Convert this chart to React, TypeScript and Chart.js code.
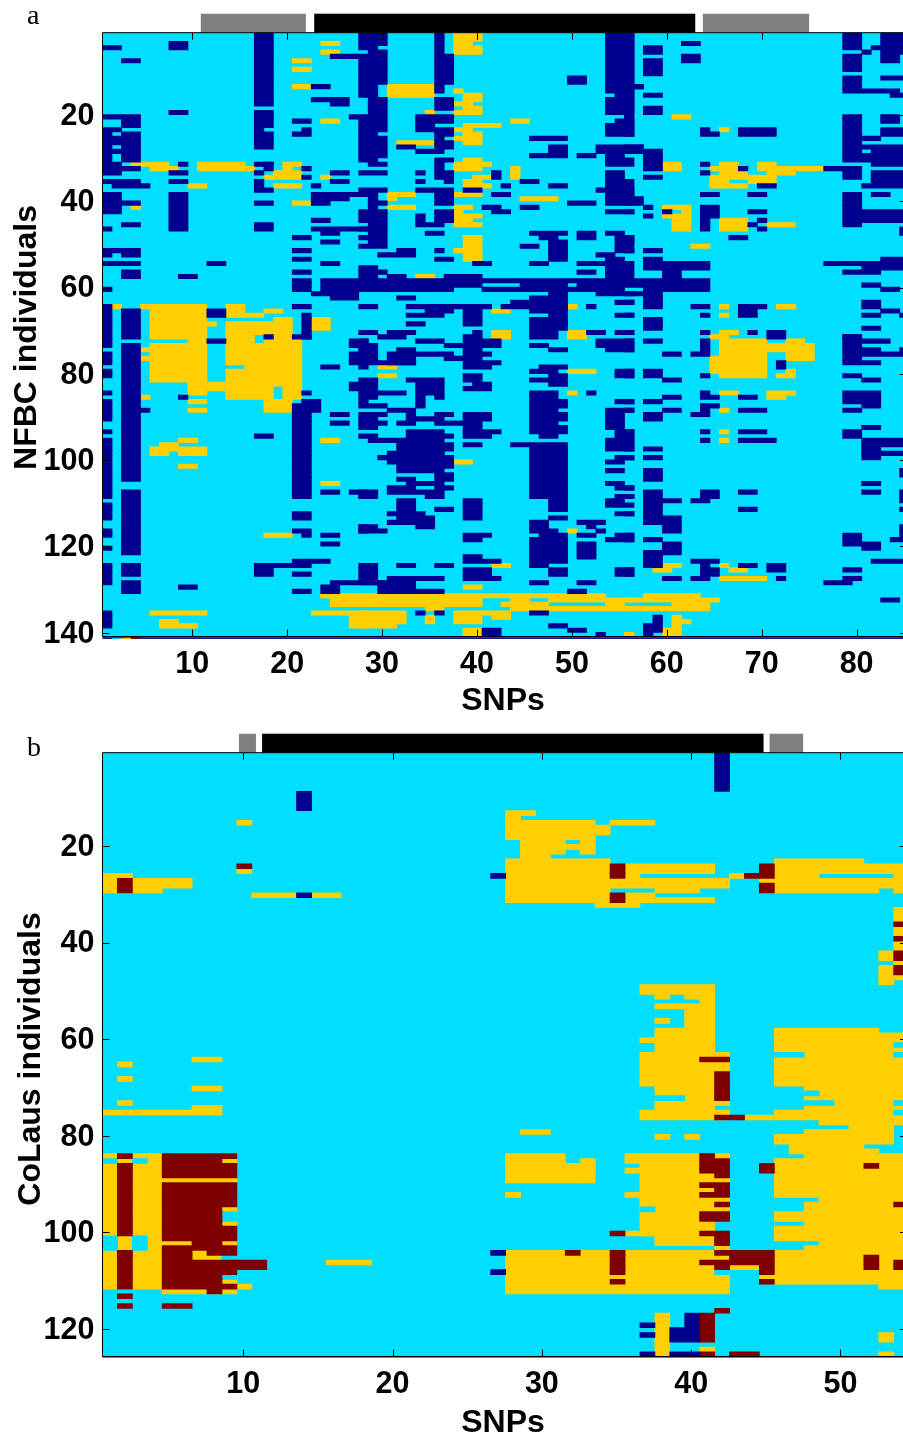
import React, { useEffect, useRef } from "react";
import { Chart, registerables } from "chart.js";

Chart.register(...registerables);

type Block = [number, number, number, number];

// Cell blocks: [first column edge, last column edge, first row edge, last row edge], zero based.
const A_NAVY: Block[] = [
[0,2,3,4],[7,9,2,4],[2,4,6,7],[16,18,0,17],[16,18,18,22],[16,17,22,23],[16,18,23,27],[7,9,18,19],[20,22,20,21],[21,22,22,23],[20,22,23,24],
[22,24,12,13],[22,26,15,16],[24,26,16,17],[24,27,5,6],
[27,30,0,3],[27,29,3,4],[28,30,4,5],[27,30,5,12],[27,29,12,15],[28,30,15,19],[26,30,19,20],[27,30,20,23],[27,29,23,24],[27,30,24,29],[27,29,29,30],[28,30,30,31],[27,30,32,33],[27,30,36,37],[27,29,37,38],[28,29,38,39],[28,30,39,40],[28,29,40,41],[27,30,41,44],[28,30,44,45],[27,30,45,46],[28,30,46,47],[27,30,47,48],[28,30,48,49],[27,30,49,50],
[2,4,19,22],[0,2,19,20],[0,2,22,23],[0,1,23,24],[0,2,24,26],[0,1,26,27],[0,2,27,28],[0,1,28,30],[2,4,23,30],[0,2,30,31],[0,4,31,32],[0,2,32,33],[0,4,34,35],[1,5,35,36],
[0,2,37,42],[2,4,39,40],[2,4,44,45],[0,1,45,46],[7,9,37,46],[16,18,39,40],[16,18,44,46],[20,22,47,48],[20,22,50,51],[20,22,52,53],[20,22,55,56],[20,22,57,60],
[22,29,37,38],[22,26,38,39],[22,24,39,40],[22,23,35,36],[21,22,31,32],[21,22,33,34],[24,26,32,33],[24,26,34,35],[7,9,32,33],[8,9,30,31],[7,9,34,35],[16,18,30,31],[16,17,32,33],[16,17,34,37],[17,18,36,37],[17,18,30,32],
[22,24,43,44],[22,28,45,46],[23,25,46,47],[23,25,48,49],[23,25,53,54],[11,13,53,54],[0,4,50,51],[2,4,51,52],[0,1,51,52],[0,4,53,54],[2,4,55,57],[8,10,56,57],[0,1,59,60],[23,27,57,60],[22,27,60,61],[24,27,61,62],
[27,29,54,55],[27,30,55,56],[27,29,56,57],[30,32,56,57],[36,40,56,57],[27,64,57,58],[27,40,58,59],[44,49,58,59],[50,64,58,59],[27,37,59,60],[40,55,59,60],[57,64,59,60],
[53,56,0,12],[53,57,12,13],[53,56,13,14],[54,56,14,15],[53,56,15,18],[53,55,18,19],[55,56,18,19],[54,56,20,21],[53,56,21,24],[55,56,0,19],[56,57,12,13],[55,56,19,24],
[52,57,26,28],[57,59,27,32],[55,56,29,31],[53,55,28,31],[53,55,32,36],[52,56,36,37],[53,56,37,40],[55,57,38,40],[55,56,34,38],[53,56,41,42],[53,55,46,47],[54,56,47,49],[54,56,50,51],[52,54,51,52],[53,55,52,57],
[35,36,0,5],[35,37,5,12],[35,36,12,14],[35,37,15,18],[33,37,19,21],[33,35,21,23],[35,37,22,23],[35,36,23,27],[36,37,23,24],[36,37,25,27],[33,36,27,28],[31,33,26,27],
[45,49,24,25],[47,49,26,29],[45,47,28,29],[49,51,10,12],[50,52,28,29],
[35,36,29,34],[36,37,29,30],[36,37,32,35],[41,42,32,34],[38,40,36,37],[33,37,36,37],[35,37,37,40],[33,34,32,33],[33,34,34,35],[42,43,35,36],[44,46,34,35],[47,49,35,36],[41,43,37,38],[49,52,39,40],[40,42,40,41],[41,43,41,42],[44,46,40,41],
[33,34,42,45],[35,37,41,44],[34,36,44,45],[34,36,46,47],[35,36,50,51],[35,37,52,53],[31,33,50,52],[29,31,51,52],[39,41,53,54],[45,47,53,54],[45,49,46,47],[46,48,47,48],[47,49,48,53],[44,46,49,50],[50,52,46,48],[50,53,53,54],[50,52,55,56],[54,56,49,50],
[57,59,3,5],[57,59,6,10],[61,63,2,3],[61,63,5,7],[57,59,14,15],[57,59,17,19],[63,64,22,24],[64,65,23,24],[67,71,22,24],[55,57,26,27],[63,64,30,31],[63,64,32,33],[57,59,33,34],[67,68,31,32],[69,71,35,36],[63,65,37,38],[68,70,37,38],
[59,60,41,42],[57,58,40,41],[57,58,42,43],[55,56,41,42],[63,65,40,43],[63,64,43,46],[68,70,41,42],[69,70,43,44],[68,69,44,45],[69,70,45,46],[66,68,47,48],[57,59,50,51],[55,56,47,49],[55,56,50,51],[57,59,52,53],[57,64,53,55],[59,61,55,57],[55,56,53,57],
[78,80,0,4],[78,80,5,9],[78,80,10,14],[80,84,13,14],[83,85,14,15],[82,85,0,3],[81,85,3,4],[80,81,4,5],[82,84,4,7],[84,85,4,5],[82,85,10,11],
[78,80,19,30],[82,84,19,21],[82,85,22,24],[80,82,24,25],[80,85,26,27],[81,85,27,31],[80,81,28,30],[76,80,31,32],[78,80,32,34],[81,85,32,35],[80,85,35,36],[81,83,37,38],[78,80,37,45],[80,85,41,44],[84,85,45,47],
[76,85,53,54],[78,82,55,56],[80,85,54,55],[82,85,52,53],[80,82,58,59],[82,84,59,60],[80,82,62,64],[82,84,64,65],[80,82,65,66],[84,85,65,66],[80,82,68,69],[78,80,70,71],
[47,49,60,61],[52,56,60,61],[55,59,60,61],[57,59,61,64],[55,56,62,63],[31,33,61,62],[45,49,61,62],[43,49,62,63],[54,56,62,63],
[62,64,63,64],[63,64,65,66],[67,70,63,64],[67,69,64,66],[57,59,66,69],[55,56,65,66],
[55,56,69,70],[63,64,69,70],[68,69,69,70],[70,72,69,71],[55,56,71,74],[57,59,71,72],[63,64,71,75],[62,63,74,75],[59,61,74,75],[71,72,76,78],[55,56,78,80],[57,59,78,80],[59,61,80,81],[63,64,79,80],
[78,80,70,77],[80,83,71,72],[80,82,73,75],[82,85,74,75],[84,85,73,74],[80,82,76,77],[78,80,79,80],[80,82,80,81],
[63,64,83,85],[64,65,84,85],[67,69,84,85],[59,61,84,85],[57,59,85,86],[55,56,85,86],[78,82,83,86],[80,82,86,87],[78,80,87,88],[63,65,86,87],[63,64,87,88],[62,64,88,89],[59,61,87,88],[55,56,87,88],[57,59,88,90],[67,70,87,88],
[63,64,92,93],[67,70,92,93],[63,64,94,95],[67,71,94,95],[55,56,92,97],[57,59,96,97],[57,59,98,99],[55,56,98,99],[57,59,101,104],[78,80,92,94],[80,82,91,92],[80,82,94,99],[82,85,94,96],[82,85,97,98],[84,85,101,103],[80,82,104,105],[80,82,106,107],[84,85,106,109],[84,85,110,111],
[57,59,106,114],[59,61,108,109],[63,65,106,108],[62,64,108,109],[67,69,106,107],[67,69,110,111],[55,56,105,106],[55,56,107,108],[55,56,109,110],[55,56,111,112],
[59,61,112,116],[55,56,116,118],[57,59,117,118],[59,61,118,121],[57,59,120,124],[78,80,116,119],[80,82,118,120],[81,85,122,123],[83,85,117,118],[84,85,114,117],
[55,56,124,126],[62,65,122,123],[63,64,123,124],[63,65,124,126],[62,64,126,127],[59,61,126,127],[67,69,123,124],[70,72,123,125],[71,72,126,127],[78,80,124,125],[78,80,126,127],[76,79,127,128],[82,84,131,132],[58,59,135,139],[57,58,137,140],
[27,29,63,64],[32,41,63,64],[42,49,63,64],[51,52,63,64],[54,56,65,66],[32,36,65,66],[34,37,64,65],[38,40,64,68],[45,49,64,65],[47,49,65,66],[45,49,66,69],[45,48,69,71],[32,34,67,68],
[51,53,69,70],[54,56,69,70],[27,29,69,70],[30,33,69,70],[29,32,70,71],[39,40,69,70],[33,36,71,72],[27,28,71,72],[27,29,72,77],[31,33,73,74],[30,33,74,77],[29,33,76,77],[33,37,74,75],[36,38,72,73],[36,38,75,76],[38,40,70,78],[40,42,71,73],[40,41,74,75],[40,42,76,77],[40,41,77,78],[27,28,77,78],
[45,47,72,73],[47,49,73,74],[52,56,71,73],[53,56,73,74],[46,49,77,78],[45,47,78,79],[47,48,78,80],[48,49,79,80],[45,47,80,81],[47,49,80,82],[54,56,78,80],[51,52,83,84],[54,56,85,86],
[38,40,79,81],[39,41,81,83],[38,39,82,83],[32,36,80,81],[34,36,81,84],[35,36,84,85],[27,29,80,85],[29,32,83,84],[33,34,81,87],[27,30,86,87],[30,33,87,88],[27,29,88,92],[29,30,88,89],[29,30,90,91],[32,33,88,90],[31,33,90,91],[33,35,89,90],[35,37,88,89],[35,36,89,91],[36,38,90,91],
[38,41,88,90],[38,40,90,94],[40,42,92,93],[40,41,93,94],[38,40,95,96],[43,45,95,96],
[45,48,83,93],[48,49,85,87],[47,49,88,90],[47,49,91,93],[46,48,93,94],[45,49,95,108],[53,55,87,92],[55,56,87,88],[54,56,92,94],[53,56,94,97],[54,56,98,99],[53,55,99,100],[53,55,101,102],[53,55,104,105],[54,56,105,106],[54,56,107,108],[53,55,108,110],[54,56,111,112],
[32,36,92,98],[36,37,93,94],[36,37,95,97],[27,29,93,94],[28,32,94,95],[31,33,95,96],[31,36,96,102],[30,31,97,100],[29,30,98,99],[36,37,98,101],[31,33,103,104],[35,36,102,106],[36,37,102,104],[30,33,105,107],[32,35,104,105],[33,36,106,107],[34,36,107,108],[36,37,105,106],[27,29,106,108],
[38,40,108,113],[35,37,110,111],[31,33,108,111],[30,34,111,112],[31,35,112,113],[30,35,113,114],[33,35,114,115],[27,29,114,115],[27,30,115,116],
[38,41,116,117],[38,40,117,118],[47,49,108,111],[47,49,112,113],[45,47,113,116],[47,48,115,116],[46,49,116,117],[45,49,117,123],[45,47,123,124],[50,53,113,114],[51,52,114,115],[52,53,115,116],[50,52,116,117],[50,52,118,122],[54,56,116,118],[53,54,117,118],
[38,40,121,123],[40,42,122,123],[38,41,124,127],[41,42,126,127],[47,49,124,126],[54,56,124,126],[45,47,127,128],[50,52,127,128],[49,51,129,130],
[27,29,123,128],[31,33,123,124],[35,37,123,124],[30,36,126,127],[29,33,127,130],[33,36,129,130],
[0,1,63,73],[2,4,64,71],[2,4,72,104],[2,4,106,121],[2,4,123,126],[2,4,127,130],[0,1,74,77],[0,1,78,80],[0,1,83,84],[0,1,85,90],[0,1,92,93],[0,1,94,108],[0,1,109,113],[0,1,115,117],[0,1,119,120],[0,1,123,128],[0,1,134,138],
[11,13,64,66],[11,13,71,72],[17,18,70,71],[20,22,63,64],[21,22,65,71],[20,22,70,71],[21,22,83,84],[21,23,85,88],[20,22,86,108],[20,22,111,113],[20,22,115,116],[21,22,116,117],[16,18,93,94],[4,5,87,88],[8,9,84,85],
[23,25,77,78],[24,26,88,89],[24,26,90,91],[23,25,106,107],[26,28,106,107],[27,28,107,108],[23,25,116,117],[23,25,118,119],[26,28,71,73],[27,28,73,74],[26,28,74,77],[26,28,81,83],[27,28,85,86],[27,28,114,116],
[8,10,128,129],[16,18,123,126],[18,20,123,124],[20,22,122,124],[22,24,122,123],[20,22,125,126],[20,22,129,130],[23,25,128,130],[24,30,127,128],[33,34,134,135],[35,36,134,135],[45,47,134,135],[40,42,138,140],[47,49,137,138],[49,51,138,139],[52,53,139,140],
];

const A_YELLOW: Block[] = [
[23,25,20,21],[23,25,2,3],[23,25,4,5],[20,22,6,7],[20,22,8,9],[20,22,12,13],[3,4,40,41],[20,22,39,40],
[3,7,30,31],[5,8,31,32],[10,15,30,32],[15,16,31,32],[19,21,30,31],[19,20,31,32],[18,21,32,34],[17,18,33,34],[18,21,35,36],[9,11,35,36],[23,24,33,34],
[37,39,0,3],[39,40,0,2],[37,40,3,5],[30,35,12,15],[37,38,13,14],[38,40,14,16],[37,39,16,17],[38,40,17,19],[37,38,18,19],[34,35,18,19],[43,45,20,21],[38,42,21,22],[37,39,22,23],[38,40,23,26],[37,38,24,25],[31,35,25,26],
[37,41,30,31],[38,40,29,30],[37,40,31,32],[43,44,31,34],[39,41,33,34],[38,40,34,36],[40,41,35,36],[37,40,37,38],[44,48,38,39],[30,33,37,38],[30,31,38,39],[30,33,40,41],
[37,38,40,45],[38,39,40,41],[38,40,42,43],[38,39,43,44],[38,40,44,45],[38,40,47,53],[37,38,50,51],[33,35,56,57],
[60,62,19,20],[65,66,22,23],[59,61,30,32],[65,67,30,31],[64,67,31,32],[65,68,32,33],[64,68,33,34],[64,66,34,36],[66,68,35,36],[68,71,33,35],[69,71,30,32],[71,76,31,32],[70,73,32,33],
[59,62,40,41],[61,62,41,42],[59,62,42,43],[60,62,43,46],[65,68,43,46],[70,73,44,45],[62,64,49,50],[65,66,63,64],[65,66,65,66],[71,73,63,64],[65,67,69,70],
[64,66,70,71],[65,70,71,80],[64,65,75,79],[72,74,71,72],[70,75,72,74],[72,75,74,76],[72,73,78,80],[71,72,79,80],
[65,67,83,84],[70,73,83,84],[70,72,84,85],[65,66,87,88],[65,66,92,93],[65,66,94,95],
[59,61,123,124],[58,60,124,125],[65,66,123,124],[66,68,124,125],[65,70,126,127],
[57,63,130,131],[55,65,131,132],[60,64,132,133],[55,64,133,134],[60,61,135,140],[61,62,136,137],[59,60,138,140],[55,56,139,140],
[41,43,64,65],[49,50,63,64],[49,51,69,71],[41,43,69,71],[29,31,77,78],[29,31,79,80],[49,52,78,79],[49,50,83,84],[37,39,99,100],[49,50,115,116],[38,40,128,129],[41,43,123,124],
[23,53,130,131],[24,40,131,132],[43,45,131,132],[47,56,131,132],[24,40,132,133],[42,47,132,133],[53,55,132,133],[34,36,133,134],[43,56,133,134],
[27,32,134,137],[27,31,137,138],[37,40,134,137],[40,43,134,135],[41,43,135,136],[34,35,135,137],[22,28,134,135],[26,28,135,138],[38,40,138,140],
[1,2,63,64],[4,11,63,64],[5,11,64,71],[9,11,71,72],[5,11,72,81],[4,5,73,74],[4,5,75,76],[9,21,81,82],
[13,15,63,64],[13,14,64,65],[17,19,64,65],[13,17,65,66],[14,15,64,65],[11,12,67,68],[18,20,66,67],[13,20,67,70],[13,16,70,72],[18,20,70,71],[17,21,71,72],[13,21,72,77],[15,21,77,78],[13,21,78,81],[22,24,66,69],
[19,21,82,85],[9,18,82,83],[13,18,83,85],[17,20,85,88],[9,11,83,84],[9,11,85,86],[9,11,87,88],[4,5,84,85],
[17,20,116,117],[23,25,94,95],[23,25,104,105],[23,25,130,131],
[5,11,134,135],[6,8,136,138],[8,10,137,138],[6,8,95,96],[8,10,94,95],[8,11,96,98],[5,7,96,98],[7,8,96,97],[8,10,100,101],
];

const A_EDGE: [number, number, string][] = [[0, 85, "#00008F"], [1, 2, "#00DFFF"], [2, 3, "#FFCF00"], [3, 4, "#7F0000"]];

const B_NAVY: Block[] = [[13,14,8,12],[13,14,29,30],[41,42,0,8],[26,27,25,26],[26,27,103,104],[26,27,107,108],[39,40,116,119],[38,40,119,122],[36,37,118,119],[36,37,120,121],[36,37,124,125],[38,40,124,125]];

const B_RED: Block[] = [
[9,10,23,24],[1,2,26,29],[34,35,23,26],[43,44,25,26],[44,45,23,26],[44,45,27,29],[34,35,29,31],
[53,54,35,36],[53,54,38,39],[53,54,41,43],[53,54,44,46],
[1,2,83,84],[1,2,85,100],[1,2,103,111],[4,9,83,84],[4,8,84,85],[4,9,85,88],[4,9,89,94],[4,8,94,101],[8,9,98,101],[6,8,101,102],[4,8,102,103],[8,9,102,104],[4,6,103,104],[7,8,103,104],[4,6,104,105],[4,11,105,107],[4,9,107,108],[4,8,108,110],[4,9,110,111],[7,8,111,112],
[1,2,112,113],[1,2,114,115],[4,6,114,115],
[40,42,63,64],[41,42,66,72],[41,43,75,76],
[40,41,83,87],[41,42,84,88],[40,41,89,90],[41,42,89,92],[40,41,91,92],[41,42,93,94],[40,42,95,97],[34,35,99,100],[40,41,99,100],[41,42,99,102],
[31,32,103,104],[34,35,103,108],[34,35,109,110],[41,42,103,104],[42,45,103,105],[40,42,105,106],[41,42,106,107],[44,45,105,108],[42,44,105,106],[44,45,109,110],
[44,45,85,87],[51,52,85,86],[51,52,104,107],[53,54,105,107],[53,54,93,94],
[41,42,115,116],[40,41,116,122],[40,41,124,125],[42,44,124,125],
];

const B_YELLOW: Block[] = [
[9,10,14,15],[9,10,24,25],[10,13,29,30],[14,16,29,30],[0,2,25,26],[0,6,26,28],[0,4,28,29],[6,8,63,64],[1,2,64,65],[1,2,67,68],[6,8,69,70],[1,2,72,73],[6,8,73,74],[0,8,74,75],
[0,4,83,111],[4,9,83,112],[9,10,110,111],[15,18,105,106],
[27,29,12,13],[27,28,13,14],[27,33,14,15],[33,34,15,17],[34,37,14,15],[27,33,15,18],[28,31,18,21],[32,33,18,21],[31,32,19,20],[28,30,21,22],
[27,34,22,31],[35,41,23,25],[35,36,25,26],[42,43,25,26],[34,42,26,28],[37,40,28,29],[35,37,29,31],[37,41,30,31],[33,36,31,32],
[44,45,26,27],[45,51,22,23],[45,54,23,25],[45,48,25,26],[53,54,25,26],[45,54,26,28],[45,52,28,29],[53,54,28,29],
[53,54,32,47],[52,53,41,43],[52,53,44,48],
[36,41,48,50],[37,38,50,51],[39,41,50,51],[40,41,51,52],[37,41,52,53],[39,41,53,57],[37,38,55,56],[37,41,57,62],[36,37,59,60],[36,42,62,69],
[37,41,69,71],[39,41,71,72],[37,41,72,74],[41,42,72,73],[36,42,74,76],
[45,52,57,58],[45,54,58,69],[45,47,74,76],[47,54,69,76],[43,45,75,76],[48,54,76,77],[50,53,77,78],[47,53,78,79],[45,53,79,81],[46,51,81,82],[46,52,82,83],[47,54,83,84],[45,54,84,92],[48,54,92,93],[47,54,93,95],[45,54,95,97],[47,54,97,98],[45,54,98,101],[48,54,101,102],[47,54,102,103],[45,54,103,110],[52,54,110,111],
[27,31,83,89],[31,32,85,89],[32,33,84,89],[27,28,91,92],[28,30,78,79],[37,38,79,80],[39,40,79,80],
[35,40,83,84],[41,42,83,84],[35,40,84,85],[36,40,85,86],[35,40,86,87],[36,41,87,99],[35,36,91,92],[41,42,88,89],[41,42,92,96],[35,37,99,100],[36,40,99,100],[37,41,100,102],[41,42,102,103],[27,42,103,112],[42,44,106,107],[44,45,108,109],
[37,38,116,125],[40,41,123,124],[52,53,120,122],[52,53,124,125],
];

const B_CYAN: Block[] = [
[0,1,84,85],[2,3,84,85],[0,1,100,103],[2,3,100,103],[8,9,95,97],[8,9,104,105],[8,9,108,109],
[53,54,60,61],[53,54,62,63],[45,47,62,63],[47,48,70,71],[47,49,72,73],[53,54,72,73],[53,54,74,75],[37,39,71,72],[41,42,107,108],[36,37,94,95],
];

const A_X_TICKS = [10, 20, 30, 40, 50, 60, 70, 80];
const A_Y_TICKS = [20, 40, 60, 80, 100, 120, 140];
const B_X_TICKS = [10, 20, 30, 40, 50];
const B_Y_TICKS = [20, 40, 60, 80, 100, 120];
const A_MARKERS: [number, number, string][] = [[10.9, 21.97, "#808080"], [22.85, 63, "#000000"], [63.8, 75, "#808080"]];
const B_MARKERS: [number, number, string][] = [[9.71, 10.85, "#808080"], [11.26, 44.85, "#000000"], [45.25, 47.5, "#808080"]];

const CYAN = "#00DFFF";
const NAVY = "#00008F";
const YELLOW = "#FFCF00";
const RED = "#7F0000";
const TEXT_FONT = "'Liberation Sans', Arial, sans-serif";

function spans(blocks: Block[], xMin: number, yMin: number) {
  const out: { x: [number, number]; y: number }[] = [];
  for (const [c1, c2, r1, r2] of blocks) {
    for (let r = r1; r < r2; r++) out.push({ x: [xMin + c1, xMin + c2], y: yMin + r + 0.5 });
  }
  return out;
}

interface PanelProps {
  top: number; height: number; letter: string; letterY: number; yTitle: string; yTitleX: number; yTitleY: number; xTitleY: number;
  plotTop: number; plotBottom: number; xMin: number; xMax: number; yMin: number; yMax: number;
  rowCount: number; columnCount: number; xTicks: number[]; yTicks: number[];
  markers: [number, number, string][]; layers: [Block[], string, string][];
  edge: [number, number, string][];
}

function Panel(p: PanelProps) {
  const ref = useRef<HTMLCanvasElement>(null);
  useEffect(() => {
    const rows: Block[] = [[0, p.columnCount, 0, p.rowCount]];
    const datasets = [...p.layers, [rows, CYAN, "common"] as [Block[], string, string]].map(([blocks, color, label]) => ({
      label,
      data: spans(blocks, p.xMin, p.yMin),
      backgroundColor: color,
      borderWidth: 0,
      barPercentage: 1,
      categoryPercentage: 1,
      grouped: false,
      inflateAmount: 0.4,
    }));
    const frame = {
      id: "frame",
      beforeDatasetsDraw(chart: any) {
        const { ctx, chartArea: a } = chart;
        ctx.save();
        ctx.fillStyle = CYAN;
        ctx.fillRect(a.left, a.top, a.right - a.left, a.bottom - a.top);
        ctx.restore();
      },
      afterDatasetsDraw(chart: any) {
        const { ctx, chartArea: a, scales } = chart;
        ctx.save();
        for (const [from, to, color] of p.markers) {
          const x1 = scales.x.getPixelForValue(from);
          const x2 = scales.x.getPixelForValue(to);
          ctx.fillStyle = color;
          ctx.fillRect(x1, a.top - 19, x2 - x1, 19);
        }
        for (const [from, to, color] of p.edge) {
          const x1 = scales.x.getPixelForValue(p.xMin + from);
          const x2 = scales.x.getPixelForValue(p.xMin + to);
          ctx.fillStyle = color;
          ctx.fillRect(x1, a.bottom + 0.7, x2 - x1, 1.5);
        }
        ctx.strokeStyle = "#000";
        ctx.lineWidth = 1;
        ctx.beginPath();
        ctx.moveTo(a.left, a.top); ctx.lineTo(a.right, a.top);
        ctx.moveTo(a.left, a.top); ctx.lineTo(a.left, a.bottom);
        for (const v of p.xTicks) {
          const x = Math.round(scales.x.getPixelForValue(v)) + 0.5;
          ctx.moveTo(x, a.top); ctx.lineTo(x, a.top + 7);
          ctx.moveTo(x, a.bottom); ctx.lineTo(x, a.bottom - 7);
        }
        for (const v of p.yTicks) {
          const y = Math.round(scales.y.getPixelForValue(v)) + 0.5;
          ctx.moveTo(a.left, y); ctx.lineTo(a.left + 7, y);
          ctx.moveTo(a.right - 3, y); ctx.lineTo(a.right, y);
        }
        ctx.stroke();
        ctx.lineWidth = 1.5;
        ctx.beginPath();
        ctx.moveTo(a.left, a.bottom); ctx.lineTo(a.right, a.bottom);
        ctx.stroke();
        ctx.fillStyle = "#000";
        ctx.font = "28px 'Liberation Serif', serif";
        ctx.textAlign = "left";
        ctx.textBaseline = "alphabetic";
        ctx.fillText(p.letter, 27, p.letterY);
        ctx.font = `bold 32px ${TEXT_FONT}`;
        ctx.textAlign = "center";
        ctx.fillText("SNPs", 503, p.xTitleY);
        ctx.translate(p.yTitleX, p.yTitleY);
        ctx.rotate(-Math.PI / 2);
        ctx.fillText(p.yTitle, 0, 0);
        ctx.restore();
      },
    };
    const chart = new Chart(ref.current!, {
      type: "bar",
      data: { datasets } as any,
      plugins: [frame],
      options: {
        animation: false,
        responsive: false,
        indexAxis: "y",
        layout: { autoPadding: false, padding: { top: p.plotTop, left: 0, right: 0, bottom: 0 } },
        plugins: { legend: { display: false }, tooltip: { enabled: false } },
        scales: {
          x: {
            type: "linear", min: p.xMin, max: p.xMax, offset: false,
            grid: { display: false, drawTicks: false }, border: { display: false },
            afterFit(s: any) { s.height = p.height - p.plotBottom; },
            afterBuildTicks(s: any) { s.ticks = p.xTicks.map((value) => ({ value })); },
            ticks: { autoSkip: false, maxRotation: 0, padding: 13, color: "#000", font: { family: TEXT_FONT, size: 30.5, weight: "bold", lineHeight: 1 } },
          },
          y: {
            type: "linear", reverse: true, min: p.yMin, max: p.yMax, offset: false,
            grid: { display: false, drawTicks: false, offset: false }, border: { display: false },
            afterFit(s: any) { s.width = 102.5; },
            afterBuildTicks(s: any) { s.ticks = p.yTicks.map((value) => ({ value })); },
            ticks: { autoSkip: false, padding: 8, labelOffset: 1.5, color: "#000", font: { family: TEXT_FONT, size: 30.5, weight: "bold", lineHeight: 1 } },
          },
        },
      } as any,
    });
    return () => chart.destroy();
  }, []);
  return <canvas ref={ref} width={903} height={p.height} style={{ position: "absolute", left: 0, top: p.top, display: "block" }} />;
}

export default function App() {
  return (
    <div style={{ position: "absolute", left: 0, top: 0, width: 903, height: 1435, background: "#fff" }}>
      <Panel top={0} height={717} letter="a" letterY={24} yTitle="NFBC individuals" yTitleX={36} yTitleY={337.5} xTitleY={710} plotTop={32.7} plotBottom={636.7}
        xMin={0.54} xMax={84.89} yMin={0.92} yMax={140.92} rowCount={140} columnCount={85}
        xTicks={A_X_TICKS} yTicks={A_Y_TICKS} markers={A_MARKERS} edge={A_EDGE}
        layers={[[A_NAVY, NAVY, "navy"], [A_YELLOW, YELLOW, "yellow"]]} />
      <Panel top={717} height={718} letter="b" letterY={39} yTitle="CoLaus individuals" yTitleX={40} yTitleY={342} xTitleY={714.5} plotTop={35.7} plotBottom={639.7}
        xMin={0.57} xMax={54.19} yMin={0.72} yMax={125.72} rowCount={125} columnCount={54}
        xTicks={B_X_TICKS} yTicks={B_Y_TICKS} markers={B_MARKERS} edge={[]}
        layers={[[B_NAVY, NAVY, "navy"], [B_RED, RED, "red"], [B_CYAN, CYAN, "gap"], [B_YELLOW, YELLOW, "yellow"]]} />
    </div>
  );
}
